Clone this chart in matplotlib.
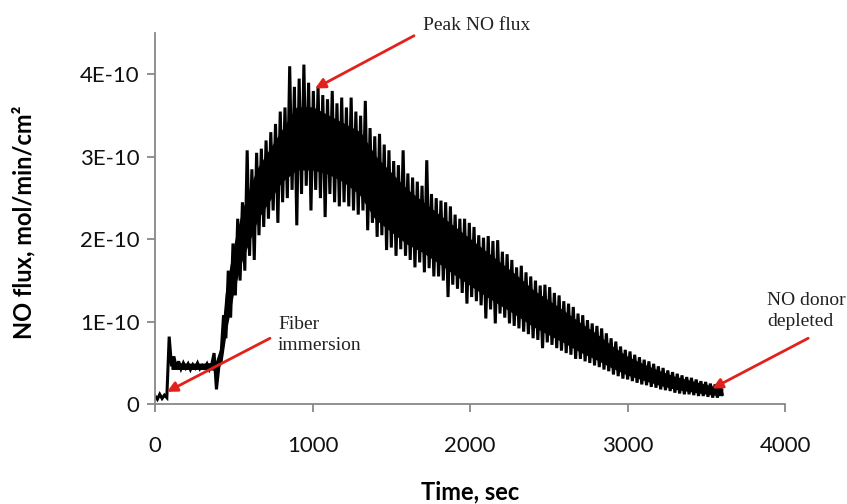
import numpy as np
import matplotlib
matplotlib.use("Agg")
import matplotlib.pyplot as plt
from matplotlib.ticker import FuncFormatter

# NO flux trace, in units of 1E-10 mol/min/cm2
# one reading every 15 s, starting at t = 0
sample_step = 15
flux_e10 = [
    0.10, 0.06, 0.12, 0.07, 0.11, 0.08, 0.82, 0.46, 0.58, 0.44,
    0.52, 0.43, 0.50, 0.44, 0.49, 0.42, 0.48, 0.44, 0.50, 0.43,
    0.47, 0.44, 0.49, 0.42, 0.48, 0.62, 0.18, 0.45, 0.62, 1.08,
    0.80, 1.62, 1.05, 1.95, 1.32, 2.25, 1.50, 2.45, 1.62, 3.08,
    1.80, 2.85, 1.75, 3.05, 2.05, 3.10, 2.15, 3.20, 2.25, 3.30,
    2.35, 3.40, 2.20, 3.55, 2.45, 3.60, 2.50, 4.10, 2.60, 3.85,
    2.17, 3.95, 2.55, 4.12, 2.65, 3.90, 2.35, 3.80, 2.60, 3.85,
    2.50, 3.75, 2.27, 3.70, 2.55, 3.80, 2.45, 3.65, 2.40, 3.72,
    2.45, 3.60, 2.40, 3.72, 2.35, 3.55, 2.30, 3.50, 2.35, 3.68,
    2.11, 3.35, 2.20, 3.25, 2.03, 3.28, 2.05, 3.15, 1.87, 3.08,
    1.90, 2.95, 1.80, 2.90, 1.88, 3.08, 1.80, 2.80, 1.75, 2.75,
    1.66, 2.70, 1.72, 2.65, 1.60, 2.96, 1.65, 2.55, 1.55, 2.50,
    1.55, 2.47, 1.50, 2.45, 1.30, 2.40, 1.45, 2.30, 1.40, 2.25,
    1.35, 2.25, 1.22, 2.20, 1.30, 2.15, 1.25, 2.05, 1.20, 2.02,
    1.04, 2.04, 1.15, 1.98, 0.98, 1.99, 1.10, 1.85, 1.05, 1.82,
    0.98, 1.75, 0.95, 1.66, 0.92, 1.68, 0.88, 1.60, 0.85, 1.55,
    0.80, 1.50, 0.78, 1.44, 0.68, 1.45, 0.75, 1.42, 0.72, 1.35,
    0.68, 1.32, 0.65, 1.25, 0.62, 1.22, 0.60, 1.18, 0.55, 1.10,
    0.55, 1.08, 0.52, 1.02, 0.50, 0.98, 0.47, 0.95, 0.45, 0.92,
    0.42, 0.86, 0.40, 0.80, 0.36, 0.76, 0.34, 0.70, 0.31, 0.66,
    0.30, 0.64, 0.28, 0.60, 0.26, 0.57, 0.24, 0.54, 0.23, 0.52,
    0.21, 0.49, 0.20, 0.46, 0.18, 0.44, 0.17, 0.41, 0.16, 0.39,
    0.14, 0.37, 0.13, 0.35, 0.12, 0.33, 0.12, 0.32, 0.11, 0.30,
    0.10, 0.28, 0.10, 0.27, 0.09, 0.25, 0.08, 0.24, 0.08, 0.22,
    0.12,
]

# the dense, solid-black core of the noisy trace (units of 1E-10)
core_t = [105, 200, 300, 385, 420, 450, 500, 550, 600, 650, 700, 800,
          900, 1000, 1100, 1200, 1300, 1400, 1500, 1600, 1700, 1800,
          1900, 2000, 2100, 2200, 2300, 2400, 2500, 2600, 2700, 2800,
          2900, 3000, 3100, 3200, 3300, 3400, 3500, 3600]
core_lo = [0.43, 0.43, 0.43, 0.42, 0.50, 0.90, 1.40, 1.75, 2.00, 2.25,
           2.40, 2.70, 2.85, 2.85, 2.80, 2.70, 2.55, 2.25, 2.10, 1.95,
           1.85, 1.72, 1.58, 1.45, 1.32, 1.20, 1.08, 0.95, 0.85, 0.75,
           0.64, 0.55, 0.45, 0.36, 0.30, 0.24, 0.19, 0.16, 0.13, 0.11]
core_hi = [0.50, 0.49, 0.49, 0.50, 0.70, 1.35, 1.90, 2.30, 2.60, 2.85,
           3.00, 3.30, 3.60, 3.60, 3.50, 3.40, 3.30, 3.00, 2.80, 2.60,
           2.45, 2.30, 2.15, 2.00, 1.85, 1.70, 1.55, 1.38, 1.25, 1.12,
           0.98, 0.85, 0.70, 0.57, 0.48, 0.40, 0.33, 0.28, 0.23, 0.19]

x_ticks = [0, 1000, 2000, 3000, 4000]
y_ticks_e10 = [0, 1, 2, 3, 4]

# annotations: (text, arrow head x, head y, arrow tail x, tail y, text x, text y)
notes = [
    ("Peak NO flux", 1016, 3.83, 1644, 4.47, 1702, 4.59),
    ("Fiber\nimmersion", 76, 0.15, 730, 0.80, 781, 0.84),
    ("NO donor\ndepleted", 3537, 0.19, 4146, 0.80, 3886, 1.13),
]

time_sec = np.arange(len(flux_e10)) * sample_step
flux = np.array(flux_e10) * 1e-10

fig = plt.figure(figsize=(8.47, 5.04), dpi=100)
ax = fig.add_axes([0.183, 0.198, 0.744, 0.736])

ax.fill_between(core_t, np.array(core_lo) * 1e-10, np.array(core_hi) * 1e-10,
                color="black", lw=1.0)
ax.plot(time_sec, flux, color="black", lw=2.2, solid_joinstyle="miter")

ax.set_xlim(0, 4000)
ax.set_ylim(0, 4.5e-10)
ax.set_xticks(x_ticks)
ax.set_yticks([v * 1e-10 for v in y_ticks_e10])
ax.yaxis.set_major_formatter(FuncFormatter(
    lambda v, pos: "0" if abs(v) < 1e-13 else f"{v / 1e-10:.0f}E-10"))

for side in ["top", "right"]:
    ax.spines[side].set_visible(False)
for side in ["left", "bottom"]:
    ax.spines[side].set_color("#888888")
    ax.spines[side].set_linewidth(1.3)

ax.tick_params(axis="both", direction="out", color="#888888", width=1.3,
               length=6, labelcolor="#111111")
ax.tick_params(axis="x", pad=17)
ax.tick_params(axis="y", pad=5)
for lab in ax.get_xticklabels() + ax.get_yticklabels():
    lab.set_fontfamily("Lato")
    lab.set_fontsize(16)

ax.set_xlabel("Time, sec", fontfamily="Lato", fontsize=17, fontweight="bold")
ax.set_ylabel("NO flux, mol/min/cm²", fontfamily="Lato", fontsize=17,
              fontweight="bold")
ax.xaxis.set_label_coords(0.5, -0.205)
ax.yaxis.set_label_coords(-0.19, 0.49)

for text, hx, hy, tx, ty, lx, ly in notes:
    ax.annotate("", xy=(hx, hy * 1e-10), xytext=(tx, ty * 1e-10),
                arrowprops=dict(arrowstyle="-|>", color="#e3211c", lw=2,
                                mutation_scale=15, shrinkA=0, shrinkB=0),
                annotation_clip=False)
    ax.text(lx, ly * 1e-10, text, fontfamily="Liberation Serif", fontsize=14,
            color="#222222", ha="left", va="center", linespacing=1.3,
            clip_on=False)

fig.savefig("out.png", dpi=100)
